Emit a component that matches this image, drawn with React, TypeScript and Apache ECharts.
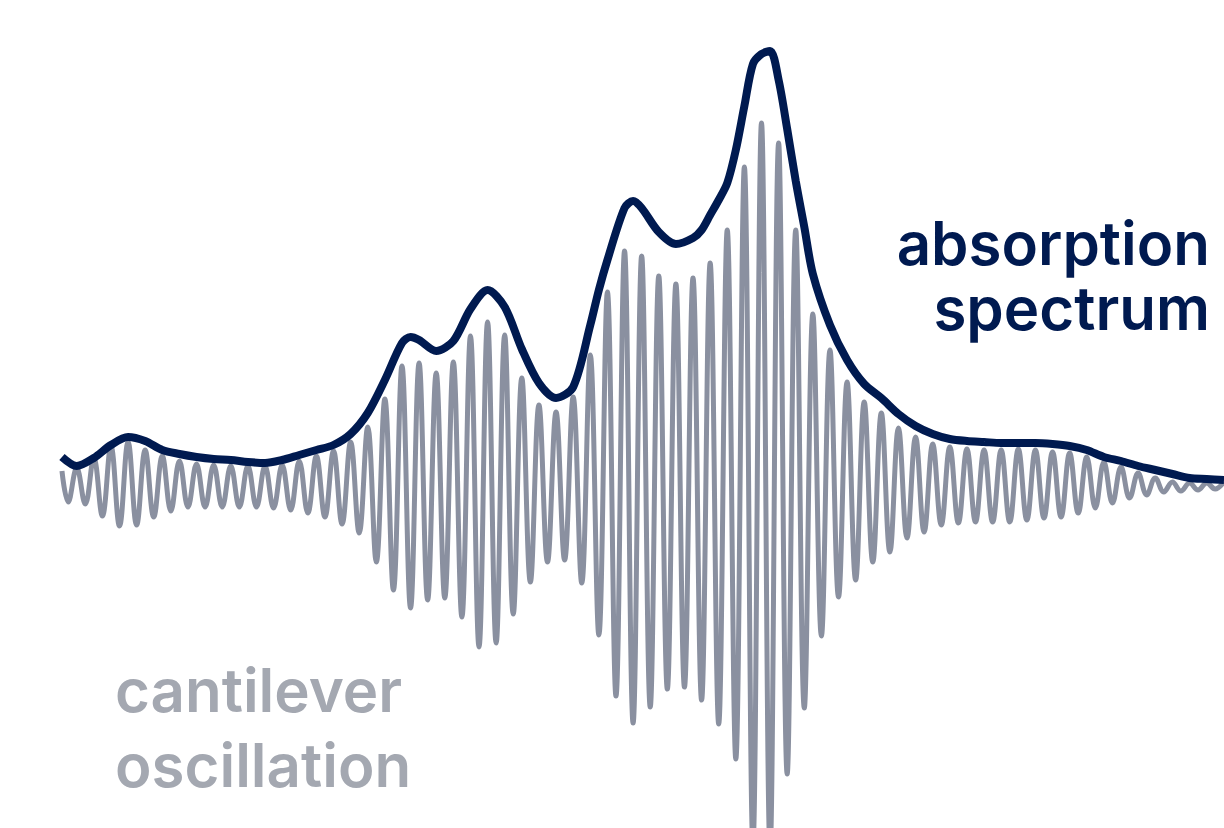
import React, { useEffect, useRef } from "react";
import * as echarts from "echarts";

// Time axis in half-cycles of the cantilever oscillation (peak k at t = 2k, trough k at t = 2k + 1)
// Signal amplitude in arbitrary units.
const oscStartT = -1.72;
const oscStartV = 0.14;

// Oscillation maxima, peak 0 .. 67
const oscPeaks = [
  0.17, 0.27, 0.39, 0.43, 0.35, 0.29, 0.24, 0.21, 0.2, 0.19,
  0.19, 0.19, 0.2, 0.24, 0.29, 0.34, 0.43, 0.58, 0.86, 1.19,
  1.22, 1.12, 1.23, 1.49, 1.63, 1.5, 1.07, 0.8, 0.73, 0.88,
  1.3, 1.93, 2.34, 2.29, 2.09, 2.01, 2.07, 2.22, 2.55, 3.18,
  3.62, 3.42, 2.55, 1.71, 1.35, 1.03, 0.83, 0.72, 0.57, 0.48,
  0.41, 0.38, 0.36, 0.35, 0.35, 0.36, 0.35, 0.33, 0.32, 0.28,
  0.23, 0.18, 0.12, 0.07, 0.03, 0.02, 0.02, 0.03,
];

// Oscillation minima, trough -1 .. 66 (trough k follows peak k)
const oscTroughs = [
  -0.17, -0.19, -0.31, -0.41, -0.4, -0.32, -0.26, -0.22, -0.22, -0.22,
  -0.22, -0.22, -0.23, -0.25, -0.28, -0.32, -0.39, -0.48, -0.77, -1.05,
  -1.23, -1.15, -1.13, -1.32, -1.62, -1.58, -1.29, -0.97, -0.77, -0.75,
  -0.98, -1.5, -2.11, -2.38, -2.22, -2.04, -2.02, -2.15, -2.39, -2.74,
  -3.6, -3.65, -2.89, -2.23, -1.51, -1.12, -0.95, -0.77, -0.67, -0.53,
  -0.47, -0.4, -0.38, -0.37, -0.37, -0.37, -0.35, -0.33, -0.32, -0.28,
  -0.23, -0.18, -0.13, -0.1, -0.07, -0.06, -0.05, -0.04,
];

// Absorption spectrum (envelope)
const envelopeT = [
  -1.72, 0, 2, 4, 6, 8, 10, 12, 14, 16,
  18, 20, 22, 24, 26, 28, 30, 32, 34, 36,
  38, 39, 40, 42, 44, 46, 48, 50, 52, 54,
  56, 58, 60, 61, 62, 64, 65, 66, 68, 70,
  72, 73, 74, 75, 76, 77, 78, 79, 80, 81,
  82, 83, 84, 85, 86, 88, 90, 92, 94, 96,
  98, 100, 102, 104, 106, 108, 110, 112, 114, 116,
  118, 120, 122, 124, 126, 128, 130, 132, 134.03,
];
const envelopeY = [
  0.28, 0.19, 0.27, 0.4, 0.48, 0.44, 0.35, 0.31, 0.28, 0.26,
  0.25, 0.23, 0.22, 0.25, 0.3, 0.35, 0.4, 0.51, 0.72, 1.05,
  1.42, 1.48, 1.45, 1.34, 1.44, 1.76, 1.95, 1.78, 1.36, 1.02,
  0.87, 0.98, 1.6, 1.95, 2.25, 2.77, 2.84, 2.77, 2.53, 2.41,
  2.47, 2.55, 2.7, 2.85, 3.02, 3.35, 3.79, 4.21, 4.31, 4.34,
  4.05, 3.56, 3.04, 2.58, 2.11, 1.6, 1.25, 1.01, 0.87, 0.71,
  0.59, 0.51, 0.46, 0.44, 0.43, 0.42, 0.42, 0.42, 0.41, 0.39,
  0.35, 0.28, 0.24, 0.19, 0.15, 0.11, 0.07, 0.06, 0.05,
];

const labelSpectrum = ["absorption", "spectrum"];
const labelOscillation = ["cantilever", "oscillation"];

const X_MIN = -8.96;
const X_MAX = 134.03;
const Y_MIN = -3.43;
const Y_MAX = 4.85;

export default function App() {
  const ref = useRef<HTMLDivElement>(null);

  useEffect(() => {
    if (!ref.current) return;
    const chart = echarts.init(ref.current, undefined, { renderer: "svg" });

    const osc: [number, number][] = [[oscStartT, oscStartV], [-1, oscTroughs[0]]];
    for (let k = 0; k < oscPeaks.length; k++) {
      osc.push([2 * k, oscPeaks[k]]);
      if (k + 1 < oscTroughs.length) osc.push([2 * k + 1, oscTroughs[k + 1]]);
    }
    const env: [number, number][] = envelopeT.map((t, i) => [t, envelopeY[i]]);

    const textStyle = {
      fontFamily: "Inter",
      fontWeight: 600,
      fontSize: 60,
      lineHeight: 56,
      verticalAlign: "middle",
    };

    chart.setOption({
      animation: false,
      grid: { left: 0, right: 0, top: 0, bottom: 0, containLabel: false },
      xAxis: { type: "value", min: X_MIN, max: X_MAX, show: false },
      yAxis: { type: "value", min: Y_MIN, max: Y_MAX, show: false },
      series: [
        {
          type: "line",
          data: osc,
          smooth: 0.4,
          symbol: "none",
          lineStyle: { color: "#8a90a0", width: 5 },
          z: 2,
        },
        {
          type: "line",
          data: env,
          smooth: 0.3,
          symbol: "none",
          lineStyle: { color: "#001a50", width: 8 },
          z: 3,
        },
      ],
      graphic: [
        {
          type: "text",
          x: 1210,
          y: 243,
          style: { ...textStyle, text: labelSpectrum[0], fill: "#001a50", align: "right" },
        },
        {
          type: "text",
          x: 1210,
          y: 308,
          style: { ...textStyle, text: labelSpectrum[1], fill: "#001a50", align: "right" },
        },
        {
          type: "text",
          x: 115,
          y: 690,
          style: { ...textStyle, text: labelOscillation[0], fill: "#a4a8b1", align: "left" },
        },
        {
          type: "text",
          x: 115,
          y: 765,
          style: { ...textStyle, text: labelOscillation[1], fill: "#a4a8b1", align: "left" },
        },
      ],
    });

    return () => chart.dispose();
  }, []);

  return (
    <div
      ref={ref}
      style={{ position: "fixed", left: 0, top: 0, width: 1224, height: 828 }}
    />
  );
}
